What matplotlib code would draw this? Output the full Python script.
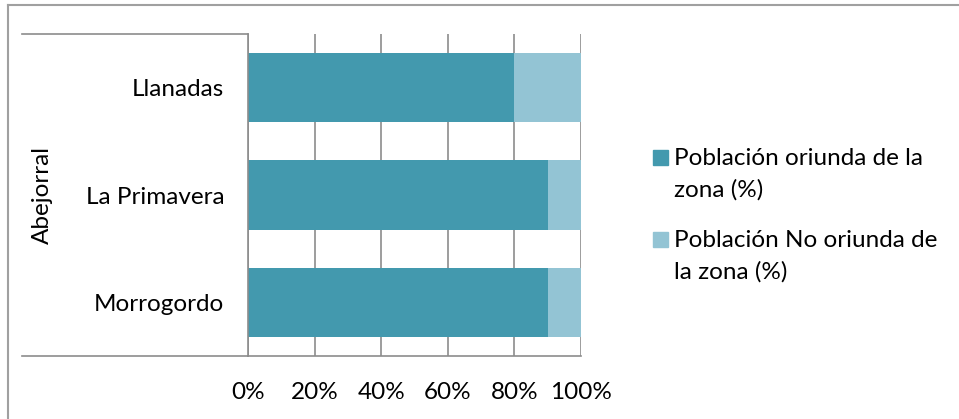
import matplotlib
matplotlib.use('Agg')
import matplotlib.pyplot as plt
from matplotlib.lines import Line2D
from matplotlib.patches import Rectangle

plt.rcParams['font.family'] = ['Lato', 'DejaVu Sans']

categories = ['Morrogordo', 'La Primavera', 'Llanadas']
oriunda = [90, 90, 80]
no_oriunda = [10, 10, 20]
group_label = 'Abejorral'
series_names = [['Población oriunda de la', 'zona (%)'],
                ['Población No oriunda de', 'la zona (%)']]
xticks = [0, 20, 40, 60, 80, 100]

W, H = 959, 419
c_dark = '#4399AE'
c_light = '#93C4D4'
grid_c = '#8C8C8C'
fs = 17.5

fig = plt.figure(figsize=(W / 100, H / 100), dpi=100)


def fx(px):
    return px / W


def fy(py):
    return 1 - py / H


ax = fig.add_axes([fx(248), fy(356), fx(581) - fx(248), fy(34) - fy(356)])
y = list(range(len(categories)))
ax.barh(y, oriunda, height=0.645, color=c_dark, zorder=2)
ax.barh(y, no_oriunda, left=oriunda, height=0.645, color=c_light, zorder=2)
ax.set_xlim(0, 100)
ax.set_ylim(-0.5, len(categories) - 0.5)
ax.set_xticks(xticks)
ax.set_xticklabels([f'{t}%' for t in xticks], fontsize=fs)
ax.set_yticks(y)
ax.set_yticklabels(categories, fontsize=fs)
ax.tick_params(axis='x', length=0, pad=19)
ax.tick_params(axis='y', length=0, pad=17)
ax.grid(axis='x', color=grid_c, lw=1.2, zorder=1)
for s in ['top', 'right']:
    ax.spines[s].set_visible(False)
for s in ['left', 'bottom']:
    ax.spines[s].set_color(grid_c)
    ax.spines[s].set_linewidth(1.2)

# group axis lines on the left
for py in (34, 356):
    fig.add_artist(Line2D([fx(22), fx(248)], [fy(py), fy(py)], color=grid_c, lw=1.2))
fig.text(fx(42), fy(195), group_label, rotation=90, ha='center', va='center', fontsize=fs)

# outer chart border
fig.add_artist(Line2D([fx(8), fx(8)], [0, fy(5)], color='#A0A0A0', lw=1.5))
fig.add_artist(Line2D([fx(8), 1], [fy(5), fy(5)], color='#A0A0A0', lw=1.5))

# legend: square + two text lines per entry
sq = 15
for i, (lines, col) in enumerate(zip(series_names, [c_dark, c_light])):
    top = 158 + i * 82
    fig.add_artist(Rectangle((fx(653), fy(top + sq / 2)), fx(sq), sq / H,
                             color=col, transform=fig.transFigure))
    for j, ln in enumerate(lines):
        fig.text(fx(674), fy(top + j * 32), ln, ha='left', va='center', fontsize=fs)

fig.savefig('out.png', dpi=100)
